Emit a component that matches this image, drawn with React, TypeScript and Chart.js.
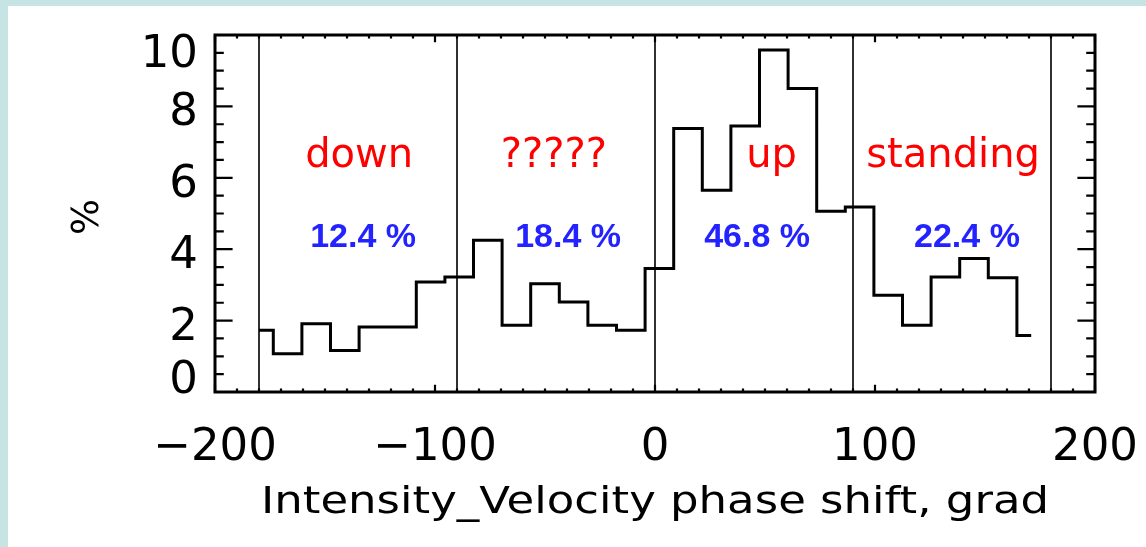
import React, { useEffect, useRef } from 'react';
import { Chart, registerables } from 'chart.js';

Chart.register(...registerables);

// Histogram of intensity–velocity phase shift (bin centres in degrees, share in %)
const phaseCenters = [-180, -167, -154, -141, -128, -115, -102, -89, -76, -63, -50, -37, -24, -11, 2, 15, 28, 41, 54, 67, 80, 93, 106, 119, 132, 145, 158, 171];
const percentValues = [1.73, 1.07, 1.91, 1.16, 1.82, 1.82, 3.08, 3.22, 4.25, 1.87, 3.03, 2.52, 1.87, 1.73, 3.46, 7.38, 5.65, 7.45, 9.58, 8.5, 5.06, 5.18, 2.71, 1.87, 3.22, 3.74, 3.2, 1.58];

// Sector borders and the wave-type sectors between them
const sectorBounds = [-180, -90, 0, 90, 180];
const sectorNames = ['down', '?????', 'up', 'standing'];
const sectorShares = [12.4, 18.4, 46.8, 22.4];

// Axis labelling
const xTickValues = [-200, -100, 0, 100, 200];
const yTickValues = [0, 2, 4, 6, 8, 10];
const xAxisTitle = 'Intensity_Velocity phase shift, grad';
const yAxisTitle = '%';

const AXIS_FONT = '"DejaVu Sans", "Liberation Sans", sans-serif';

const idlFramePlugin = {
  id: 'idlFrame',
  afterDatasetsDraw(chart: any) {
    const { ctx, chartArea: area, scales } = chart;
    const xs = scales.x;
    const ys = scales.y;
    ctx.save();
    ctx.strokeStyle = '#000';
    ctx.lineCap = 'butt';

    // inward tick marks on all four sides
    ctx.lineWidth = 2.2;
    const h = area.bottom - area.top;
    const w = area.right - area.left;
    for (let v = xs.min; v <= xs.max + 1e-6; v += 10) {
      const px = xs.getPixelForValue(v);
      const major = Math.abs(v % 100) < 1e-6;
      const len = major ? h * 0.02 : h * 0.01;
      ctx.beginPath();
      ctx.moveTo(px, area.bottom);
      ctx.lineTo(px, area.bottom - len);
      ctx.moveTo(px, area.top);
      ctx.lineTo(px, area.top + len);
      ctx.stroke();
    }
    for (let v = ys.min; v <= ys.max + 1e-6; v += 0.5) {
      const py = ys.getPixelForValue(v);
      const major = Math.abs(v % 2) < 1e-6;
      const len = major ? w * 0.02 : w * 0.01;
      ctx.beginPath();
      ctx.moveTo(area.left, py);
      ctx.lineTo(area.left + len, py);
      ctx.moveTo(area.right, py);
      ctx.lineTo(area.right - len, py);
      ctx.stroke();
    }

    // plot frame
    ctx.lineWidth = 3;
    ctx.strokeRect(area.left, area.top, w, h);

    // tick labels
    ctx.fillStyle = '#000';
    ctx.font = `45px ${AXIS_FONT}`;
    ctx.textBaseline = 'alphabetic';
    ctx.textAlign = 'center';
    xTickValues.forEach((v) => {
      const label = v < 0 ? '\u2212' + Math.abs(v) : String(v);
      ctx.fillText(label, xs.getPixelForValue(v), area.bottom + 68);
    });
    ctx.textAlign = 'right';
    yTickValues.forEach((v) => {
      const py = ys.getPixelForValue(v);
      const base = Math.min(Math.max(py + 19, area.top + 32), area.bottom + 1);
      ctx.fillText(String(v), area.left - 17, base);
    });

    // x axis title, stretched to the frame's proportions
    ctx.font = `38px ${AXIS_FONT}`;
    ctx.textAlign = 'center';
    const tw = ctx.measureText(xAxisTitle).width;
    const target = 788;
    const cx = xs.getPixelForValue(0);
    ctx.save();
    ctx.translate(cx, area.bottom + 121);
    ctx.scale(target / tw, 1);
    ctx.fillText(xAxisTitle, 0, 0);
    ctx.restore();

    // y axis title
    ctx.save();
    ctx.font = `38px ${AXIS_FONT}`;
    ctx.translate(area.left - 127, ys.getPixelForValue(4.9));
    ctx.rotate(-Math.PI / 2);
    ctx.textAlign = 'center';
    ctx.textBaseline = 'middle';
    ctx.fillText(yAxisTitle, 0, 0);
    ctx.restore();

    // sector names and their shares
    const nameAnchors = [-134.5, -46, 53, 135.5];
    const shareAnchors = [-132.7, -39.5, 46.4, 141.8];
    ctx.textAlign = 'center';
    ctx.textBaseline = 'alphabetic';
    ctx.fillStyle = '#ff0000';
    ctx.font = `40px ${AXIS_FONT}`;
    sectorNames.forEach((name, i) => {
      ctx.fillText(name, xs.getPixelForValue(nameAnchors[i]), ys.getPixelForValue(6.3));
    });
    ctx.fillStyle = '#2323ff';
    ctx.font = `bold 34px "Liberation Sans", Arial, sans-serif`;
    sectorShares.forEach((s, i) => {
      ctx.fillText(`${s.toFixed(1)} %`, xs.getPixelForValue(shareAnchors[i]), ys.getPixelForValue(4.05));
    });
    ctx.restore();
  },
};

export default function App() {
  const canvasRef = useRef<HTMLCanvasElement | null>(null);

  useEffect(() => {
    const canvas = canvasRef.current;
    if (!canvas) return;

    const stepData = phaseCenters.map((x, i) => ({ x, y: percentValues[i] }));
    const boundSets = sectorBounds.map((b) => ({
      type: 'line' as const,
      data: [{ x: b, y: 0 }, { x: b, y: 10 }],
      borderColor: '#1a1a1a',
      borderWidth: 1.8,
      pointRadius: 0,
      fill: false,
      order: 2,
    }));

    const chart = new Chart(canvas, {
      type: 'line',
      data: {
        datasets: [
          {
            data: stepData,
            stepped: 'middle',
            borderColor: '#000',
            borderWidth: 3,
            borderJoinStyle: 'miter',
            pointRadius: 0,
            fill: false,
            order: 0,
          },
          ...boundSets,
        ],
      },
      options: {
        animation: false,
        responsive: false,
        devicePixelRatio: 1,
        layout: { padding: { left: 207, right: 51, top: 29, bottom: 155 } },
        plugins: {
          legend: { display: false },
          tooltip: { enabled: false },
          title: { display: false },
        },
        scales: {
          x: { type: 'linear', min: -200, max: 200, display: false },
          y: { type: 'linear', min: 0, max: 10, display: false },
        },
      },
      plugins: [idlFramePlugin],
    } as any);

    return () => chart.destroy();
  }, []);

  return (
    <div
      style={{
        position: 'fixed',
        left: 0,
        top: 0,
        width: 1146,
        height: 547,
        background: 'rgb(199, 228, 229)',
        overflow: 'hidden',
      }}
    >
      <div style={{ position: 'absolute', left: 8, top: 6, width: 1138, height: 541, background: '#fff' }}>
        <canvas ref={canvasRef} width={1138} height={541} style={{ display: 'block', width: 1138, height: 541 }} />
      </div>
    </div>
  );
}
